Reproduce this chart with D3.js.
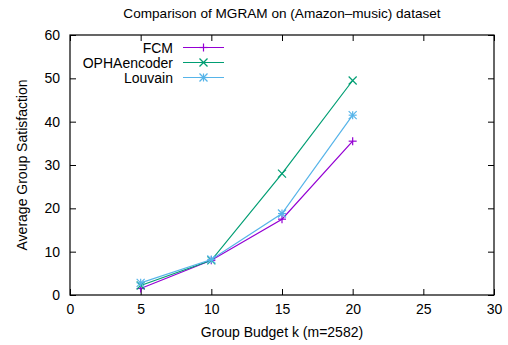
<!DOCTYPE html>
<html>
<head>
<meta charset="utf-8">
<script src="https://cdn.jsdelivr.net/npm/d3@7"></script>
<style>
  html, body { margin: 0; padding: 0; background: #fff; }
  text { font-family: "Liberation Sans", Arial, sans-serif; }
</style>
</head>
<body>
<svg id="chart" width="508" height="345"></svg>
<script>
// Group budget k values along the x axis
const budgets = [5, 10, 15, 20];
// Average group satisfaction per method
const fcm = [1.5, 8, 17.5, 35.5];
const ophaEncoder = [2.2, 8, 28, 49.5];
const louvain = [2.8, 8.2, 18.8, 41.5];
const seriesNames = ["FCM", "OPHAencoder", "Louvain"];
const xTicks = [0, 5, 10, 15, 20, 25, 30];
const yTicks = [0, 10, 20, 30, 40, 50, 60];

const series = [
  { name: seriesNames[0], values: fcm, color: "#9400d3", marker: "plus" },
  { name: seriesNames[1], values: ophaEncoder, color: "#009e73", marker: "cross" },
  { name: seriesNames[2], values: louvain, color: "#56b4e9", marker: "star" }
];

const FS = 14;
const svg = d3.select("#chart");
const margin = { left: 70, right: 14, top: 35, bottom: 50 };
const W = 508, H = 345;
const x = d3.scaleLinear().domain([0, 30]).range([margin.left, W - margin.right]);
const y = d3.scaleLinear().domain([0, 60]).range([H - margin.bottom, margin.top]);

// Title
svg.append("text")
  .attr("x", 282).attr("y", 18)
  .attr("text-anchor", "middle")
  .attr("font-size", 13.6)
  .text("Comparison of MGRAM on (Amazon\u2013music) dataset");

// Inward ticks on all four sides
const tickLen = 6;
const axB = svg.append("g").attr("transform", `translate(0,${y(0)})`)
  .call(d3.axisBottom(x).tickValues(xTicks).tickSize(-tickLen).tickPadding(9));
const axT = svg.append("g").attr("transform", `translate(0,${y(60)})`)
  .call(d3.axisTop(x).tickValues(xTicks).tickSize(-tickLen).tickFormat(""));
const axL = svg.append("g").attr("transform", `translate(${x(0)},0)`)
  .call(d3.axisLeft(y).tickValues(yTicks).tickSize(-tickLen).tickPadding(10));
const axR = svg.append("g").attr("transform", `translate(${x(30)},0)`)
  .call(d3.axisRight(y).tickValues(yTicks).tickSize(-tickLen).tickFormat(""));
[axB, axT, axL, axR].forEach(g => {
  g.select(".domain").remove();
  g.selectAll(".tick line").attr("stroke", "#000").attr("stroke-width", 1);
  g.selectAll("text").attr("font-size", FS).attr("fill", "#000")
    .attr("font-family", "Liberation Sans, Arial, sans-serif");
});

// Plot border
svg.append("rect")
  .attr("x", x(0)).attr("y", y(60))
  .attr("width", x(30) - x(0)).attr("height", y(0) - y(60))
  .attr("fill", "none").attr("stroke", "#000").attr("stroke-width", 1.2);

// Axis labels
svg.append("text")
  .attr("x", (x(0) + x(30)) / 2).attr("y", 337)
  .attr("text-anchor", "middle").attr("font-size", FS)
  .text("Group Budget k (m=2582)");
svg.append("text")
  .attr("transform", `translate(27,${(y(0) + y(60)) / 2}) rotate(-90)`)
  .attr("text-anchor", "middle").attr("font-size", FS)
  .text("Average Group Satisfaction");

// Point markers
function drawMarker(g, type, cx, cy, color) {
  const s = 4;
  const segs = [];
  if (type === "plus" || type === "star") segs.push([-s, 0, s, 0], [0, -s, 0, s]);
  if (type === "cross" || type === "star") segs.push([-s, -s, s, s], [-s, s, s, -s]);
  segs.forEach(d => g.append("line")
    .attr("x1", cx + d[0]).attr("y1", cy + d[1])
    .attr("x2", cx + d[2]).attr("y2", cy + d[3])
    .attr("stroke", color).attr("stroke-width", 1.2));
}

const line = d3.line().x((d, i) => x(budgets[i])).y(d => y(d));
series.forEach(s => {
  svg.append("path").datum(s.values)
    .attr("d", line).attr("fill", "none")
    .attr("stroke", s.color).attr("stroke-width", 1.2);
  const g = svg.append("g");
  s.values.forEach((v, i) => drawMarker(g, s.marker, x(budgets[i]), y(v), s.color));
});

// Legend
series.forEach((s, i) => {
  const ly = 47.5 + i * 15;
  svg.append("text")
    .attr("x", 173).attr("y", ly + 5)
    .attr("text-anchor", "end").attr("font-size", FS)
    .text(s.name);
  svg.append("line")
    .attr("x1", 183).attr("x2", 224).attr("y1", ly).attr("y2", ly)
    .attr("stroke", s.color).attr("stroke-width", 1.2);
  drawMarker(svg, s.marker, 203.5, ly, s.color);
});
</script>
</body>
</html>
